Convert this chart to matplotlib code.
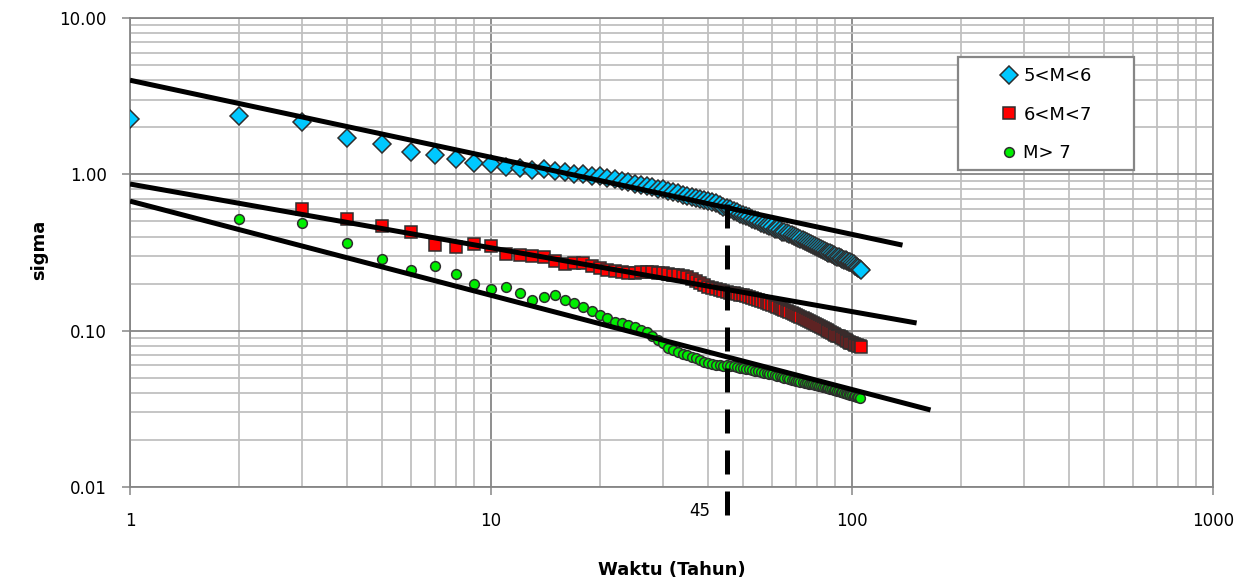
import numpy as np
import matplotlib.pyplot as plt
from matplotlib.patches import Rectangle

# data (sigma vs waktu, log-log)
x_blue = list(range(1, 107))
y_blue = [2.25, 2.37, 2.16, 1.71, 1.56, 1.39, 1.32, 1.25, 1.19, 1.16,
          1.12, 1.09, 1.07, 1.08, 1.05, 1.03, 1.01, 1.00, 0.98, 0.97,
          0.95, 0.93, 0.91, 0.89, 0.87, 0.86, 0.84, 0.83, 0.81, 0.80,
          0.78, 0.77, 0.76, 0.74, 0.73, 0.72, 0.71, 0.70, 0.69, 0.68,
          0.67, 0.66, 0.64, 0.62, 0.61, 0.60, 0.58, 0.57, 0.56, 0.55,
          0.54, 0.53, 0.52, 0.51, 0.50, 0.49, 0.48, 0.475, 0.465, 0.46,
          0.45, 0.445, 0.44, 0.43, 0.425, 0.42, 0.415, 0.41, 0.405, 0.40,
          0.394, 0.388, 0.382, 0.376, 0.37, 0.365, 0.36, 0.354, 0.349, 0.344,
          0.339, 0.334, 0.329, 0.324, 0.32, 0.316, 0.312, 0.308, 0.304, 0.30,
          0.297, 0.294, 0.291, 0.288, 0.285, 0.282, 0.279, 0.276, 0.273, 0.27,
          0.265, 0.26, 0.256, 0.252, 0.248, 0.244]

x_red = list(range(3, 107))
y_red = [0.60, 0.52, 0.47, 0.43, 0.355, 0.345, 0.36, 0.35,
         0.31, 0.305, 0.30, 0.297, 0.28, 0.265, 0.27, 0.272, 0.26, 0.25,
         0.245, 0.24, 0.238, 0.235, 0.233, 0.236, 0.238, 0.238, 0.235, 0.233,
         0.23, 0.228, 0.226, 0.224, 0.221, 0.215, 0.208, 0.202, 0.196, 0.191,
         0.188, 0.185, 0.182, 0.18, 0.177, 0.175, 0.173, 0.171, 0.17, 0.168,
         0.166, 0.163, 0.161, 0.159, 0.157, 0.154, 0.152, 0.15, 0.148, 0.146,
         0.144, 0.142, 0.14, 0.138, 0.136, 0.134, 0.132, 0.13, 0.128, 0.126,
         0.124, 0.122, 0.12, 0.119, 0.117, 0.115, 0.114, 0.112, 0.11, 0.109,
         0.107, 0.106, 0.104, 0.103, 0.101, 0.1, 0.098, 0.097, 0.095, 0.094,
         0.093, 0.092, 0.091, 0.09, 0.088, 0.087, 0.086, 0.085, 0.084, 0.083,
         0.082, 0.081, 0.0805, 0.08, 0.0795, 0.079]

x_green = list(range(2, 106))
y_green = [0.515, 0.49, 0.365, 0.287, 0.244, 0.259, 0.23, 0.20, 0.184,
           0.191, 0.173, 0.158, 0.163, 0.169, 0.158, 0.15, 0.142, 0.133, 0.126,
           0.12, 0.114, 0.112, 0.108, 0.105, 0.101, 0.098, 0.092, 0.087, 0.083,
           0.078, 0.075, 0.073, 0.071, 0.07, 0.068, 0.067, 0.065, 0.063, 0.062,
           0.061, 0.0605, 0.06, 0.0595, 0.06, 0.0595, 0.059, 0.0585, 0.058, 0.0575,
           0.057, 0.0565, 0.056, 0.0555, 0.055, 0.0545, 0.054, 0.0535, 0.053, 0.0525,
           0.052, 0.0515, 0.051, 0.0505, 0.050, 0.0495, 0.049, 0.0485, 0.048, 0.0477,
           0.0474, 0.0471, 0.0468, 0.0465, 0.0462, 0.0459, 0.0456, 0.0453, 0.045, 0.0447,
           0.0444, 0.0441, 0.0438, 0.0435, 0.0432, 0.0429, 0.0426, 0.0423, 0.042, 0.0417,
           0.0414, 0.0411, 0.0408, 0.0405, 0.0402, 0.0399, 0.0396, 0.0393, 0.039, 0.0387,
           0.0384, 0.0381, 0.0378, 0.0374, 0.037]

labels = ['5<M<6', '6<M<7', 'M> 7']

# power-law trend lines y = a * x^b, drawn from x=1 to x_end
fit_a = [4.0, 0.867, 0.674]
fit_b = [-0.493, -0.408, -0.6025]
fit_end = [138, 151, 165]

# vertical marker at 45 years
t_mark = 45
mark_top = 0.65
mark_bottom = 0.006

x_ticks = [1, 10, 100, 1000]
y_ticks = [0.01, 0.1, 1, 10]

fig = plt.figure(figsize=(12.51, 5.83), dpi=100)
ax = fig.add_axes([130 / 1251, 1 - 487 / 583, 1083 / 1251, 469 / 583])
ax.set_xscale('log')
ax.set_yscale('log')
ax.set_xlim(1, 1000)
ax.set_ylim(0.01, 10)

# grid
ax.grid(which='major', color='#868686', linewidth=1.3)
ax.grid(which='minor', color='#c0c0c0', linewidth=1.3)
ax.set_axisbelow(True)
for sp in ax.spines.values():
    sp.set_color('#868686')
    sp.set_linewidth(1.3)

edge = '#2e2e2e'
ax.plot(x_blue, y_blue, linestyle='none', marker='D', markersize=9.5,
        markerfacecolor='#00c8ff', markeredgecolor=edge, markeredgewidth=1.1,
        label=labels[0], zorder=3)
ax.plot(x_red, y_red, linestyle='none', marker='s', markersize=8,
        markerfacecolor='#ff0000', markeredgecolor=edge, markeredgewidth=1.1,
        label=labels[1], zorder=3)
ax.plot(x_green, y_green, linestyle='none', marker='o', markersize=7,
        markerfacecolor='#00ee00', markeredgecolor=edge, markeredgewidth=1.1,
        label=labels[2], zorder=3)

for a, b, xe in zip(fit_a, fit_b, fit_end):
    xs = np.array([1, xe])
    ax.plot(xs, a * xs ** b, color='black', linewidth=3.6,
            solid_capstyle='butt', zorder=4)

ax.plot([t_mark, t_mark], [mark_top, mark_bottom], color='black',
        linewidth=3.6, dashes=(4.8, 3.4), clip_on=False, zorder=5)
ax.annotate(str(t_mark), xy=(t_mark, 0.01), xytext=(-27, -24),
            textcoords='offset pixels', ha='center', va='center',
            fontsize=12, annotation_clip=False)

# ticks
ax.set_xticks(x_ticks)
ax.set_xticklabels([str(v) for v in x_ticks])
ax.set_yticks(y_ticks)
ax.set_yticklabels(['%.2f' % v for v in y_ticks])
ax.tick_params(which='major', length=5.8, width=1.1, color='#868686',
               labelsize=12)
ax.tick_params(axis='x', pad=12)
ax.tick_params(axis='y', pad=11)
ax.tick_params(which='minor', length=0)

ax.set_xlabel('Waktu (Tahun)', fontsize=13, fontweight='bold')
ax.set_ylabel('sigma', fontsize=13, fontweight='bold')
ax.xaxis.set_label_coords(0.5, -0.158)
ax.yaxis.set_label_coords(-0.076, 0.505)

# legend box drawn separately so it can be sized like the original
box = Rectangle((958 / 1251, 1 - 170 / 583), 176 / 1251, 113 / 583,
                transform=fig.transFigure, facecolor='white',
                edgecolor='#868686', linewidth=1.6, zorder=6, clip_on=False)
ax.add_artist(box)
leg = ax.legend(loc='upper left', bbox_to_anchor=(998 / 1251, 1 - 67 / 583),
                bbox_transform=fig.transFigure, frameon=False, numpoints=1,
                fontsize=13, handlelength=1.2, handletextpad=0.2,
                borderpad=0, borderaxespad=0, labelspacing=1.14)
leg.set_zorder(7)

fig.savefig('out.png', dpi=100)
